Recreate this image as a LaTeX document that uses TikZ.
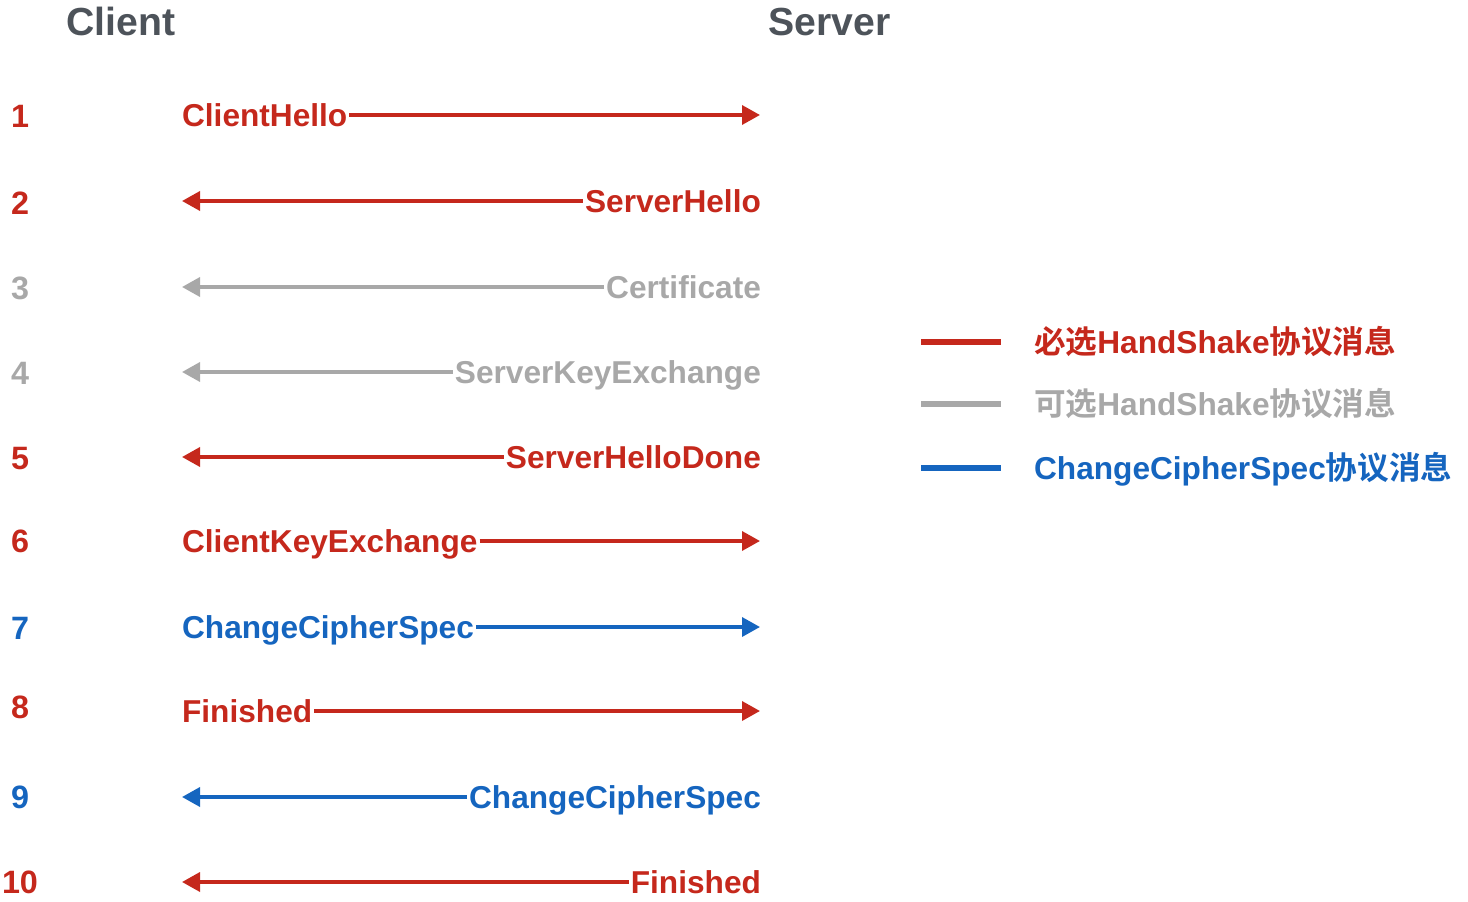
\documentclass[tikz,border=0pt]{standalone}
\usepackage{fontspec}
\setmainfont{Liberation Sans}
\newfontfamily\cjk{Noto Sans CJK SC}[BoldFont={Noto Sans CJK SC Bold}]
\usetikzlibrary{arrows.meta}

\definecolor{hsred}{HTML}{C5281C}
\definecolor{hsgray}{HTML}{A8A8A8}
\definecolor{ccsblue}{HTML}{1565BF}
\definecolor{headgray}{HTML}{4D535A}

\begin{document}
\begin{tikzpicture}[x=0.2mm, y=-0.2mm,
    msg/.style={font=\fontsize{18}{20}\selectfont\bfseries, text height=12.9pt, text depth=0pt, inner ysep=0pt, inner xsep=1pt},
    head/.style={font=\fontsize{22.3}{24}\selectfont\bfseries, text=headgray, text height=16pt, text depth=0pt, inner sep=0pt, anchor=west},
    num/.style={font=\fontsize{18.4}{20}\selectfont\bfseries, text height=13.2pt, text depth=0pt, inner sep=0pt},
    flow/.style={line width=2pt, -{Triangle[length=3.6mm, width=3.8mm]}},
    key/.style={line width=3.1pt}
]
    \useasboundingbox (0,0) rectangle (1468,902);

    % headers
    \node[head] (client) at (66,21) {Client};
    \node[head] (server) at (768,21) {Server};

    % row numbers
    \foreach \n/\y/\col in {1/116/hsred, 2/203/hsred, 3/288/hsgray, 4/373/hsgray, 5/458/hsred,
                            6/541/hsred, 7/628/ccsblue, 8/707/hsred, 9/797/ccsblue, 10/882/hsred} {
        \node[num, text=\col] (n\n) at (20,\y) {\n};
    }

    % client -> server
    \foreach \n/\y/\txt/\col in {1/115/ClientHello/hsred, 6/541/ClientKeyExchange/hsred,
                                 7/627/ChangeCipherSpec/ccsblue, 8/711/Finished/hsred} {
        \node[msg, text=\col, anchor=west] (m\n) at (180,\y) {\txt};
        \coordinate (e\n) at (760,\y);
        \draw[flow, \col] (m\n) -- (e\n);
    }

    % server -> client
    \foreach \n/\y/\txt/\col in {2/201/ServerHello/hsred, 3/287/Certificate/hsgray,
                                 4/372/ServerKeyExchange/hsgray, 5/457/ServerHelloDone/hsred,
                                 9/797/ChangeCipherSpec/ccsblue, 10/882/Finished/hsred} {
        \node[msg, text=\col, anchor=east] (m\n) at (763,\y) {\txt};
        \coordinate (e\n) at (182,\y);
        \draw[flow, \col] (m\n) -- (e\n);
    }

    % legend
    \coordinate (ka1) at (921,342); \coordinate (kb1) at (1001,342);
    \coordinate (ka2) at (921,404); \coordinate (kb2) at (1001,404);
    \coordinate (ka3) at (921,468); \coordinate (kb3) at (1001,468);
    \draw[key, hsred] (ka1) -- (kb1);
    \draw[key, hsgray] (ka2) -- (kb2);
    \draw[key, ccsblue] (ka3) -- (kb3);
    \node[msg, text=hsred, anchor=west] (k1) at (1032,342) {{\cjk 必选}HandShake{\cjk 协议消息}};
    \node[msg, text=hsgray, anchor=west] (k2) at (1032,404) {{\cjk 可选}HandShake{\cjk 协议消息}};
    \node[msg, text=ccsblue, anchor=west] (k3) at (1032,468) {ChangeCipherSpec{\cjk 协议消息}};
\end{tikzpicture}
\end{document}
